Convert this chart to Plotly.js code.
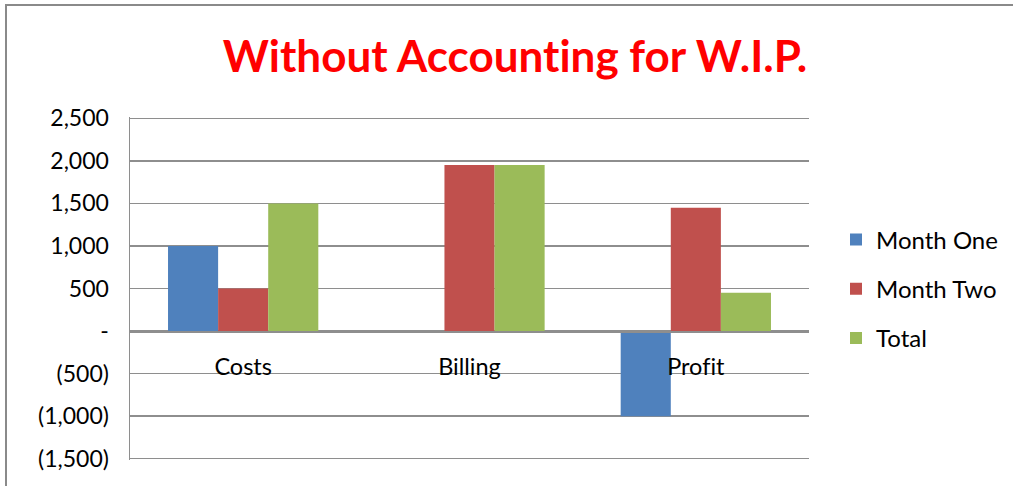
<!DOCTYPE html>
<html>
<head>
<meta charset="utf-8">
<script src="https://cdn.plot.ly/plotly-3.0.1.min.js"></script>
<style>
html,body{margin:0;padding:0;background:#fff;}
#chart{width:1013px;height:486px;}
#chart text{font-variant-ligatures:none;font-feature-settings:"liga" 0,"clig" 0;}
</style>
</head>
<body>
<div id="chart"></div>
<script>
var categories = ["Costs", "Billing", "Profit"];
var monthOne = [1000, 0, -1000];
var monthTwo = [500, 1950, 1450];
var total = [1500, 1950, 450];
var seriesNames = ["Month One", "Month Two", "Total"];
var tickValues = [2500, 2000, 1500, 1000, 500, 0, -500, -1000, -1500];
var tickLabels = ["2,500", "2,000", "1,500", "1,000", "500", "-", "(500)", "(1,000)", "(1,500)"];

var FONT = "Lato, 'Open Sans', 'Liberation Sans', sans-serif";
var colors = ["#4F81BD", "#C0504D", "#9BBB59"];
var series = [monthOne, monthTwo, total];

var traces = series.map(function (vals, i) {
  return {
    type: "bar",
    x: categories,
    y: vals,
    name: seriesNames[i],
    legendgroup: "g" + i,
    marker: {color: colors[i], line: {width: 0}},
    hoverinfo: "x+y+name"
  };
});

var L = 130, R = 204, T = 117, B = 26;
var pw = 1013 - L - R, ph = 486 - T - B;
function px(x) { return (x - L) / pw; }
function py(y) { return (486 - B - y) / ph; }

var yMin = -1515, yMax = 2515;

var layout = {
  width: 1013,
  height: 486,
  margin: {l: L, r: R, t: T, b: B, autoexpand: false},
  paper_bgcolor: "#ffffff",
  plot_bgcolor: "#ffffff",
  font: {family: FONT, size: 23, color: "#000"},
  title: {
    text: "<b>Without Accounting for W.I.P.</b>",
    font: {family: FONT, size: 44, color: "#FF0000"},
    xref: "container", yref: "container",
    x: 515 / 1013, y: 1 - 57 / 486,
    xanchor: "center", yanchor: "middle"
  },
  barmode: "group",
  bargap: 0.336,
  bargroupgap: 0,
  xaxis: {
    type: "category",
    anchor: "free",
    position: (0 - yMin) / (yMax - yMin),
    showgrid: false,
    showline: true,
    linecolor: "#8e8e8e",
    linewidth: 1.5,
    ticks: "",
    ticklabelstandoff: 14,
    tickfont: {family: FONT, size: 23.5, color: "#000"},
    automargin: false,
    fixedrange: true
  },
  yaxis: {
    range: [yMin, yMax],
    tickvals: tickValues,
    ticktext: tickLabels,
    showgrid: true,
    gridcolor: "#8e8e8e",
    gridwidth: 1.5,
    zeroline: false,
    showline: true,
    linecolor: "#8e8e8e",
    linewidth: 1.5,
    ticks: "",
    ticklabelstandoff: 15,
    tickfont: {family: FONT, size: 23, color: "#000"},
    automargin: false,
    fixedrange: true
  },
  legend: {
    x: px(836), xanchor: "left",
    y: py(289), yanchor: "middle",
    font: {family: FONT, size: 24, color: "#000"},
    tracegroupgap: 15,
    itemwidth: 30,
    bgcolor: "rgba(0,0,0,0)"
  },
  shapes: [{
    type: "rect", xref: "paper", yref: "paper",
    x0: px(6), x1: px(1018), y0: py(495), y1: py(5),
    line: {color: "#8a8a8a", width: 2},
    fillcolor: "rgba(0,0,0,0)", layer: "below"
  }],
  showlegend: true
};

Plotly.newPlot("chart", traces, layout, {displayModeBar: false, staticPlot: true});
</script>
</body>
</html>
